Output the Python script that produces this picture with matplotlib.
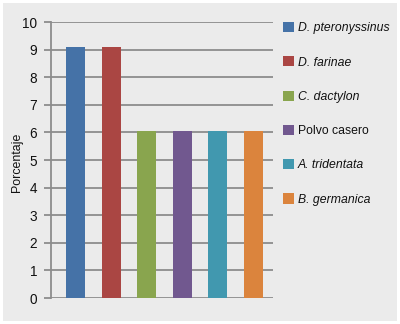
import matplotlib
matplotlib.use("Agg")
import matplotlib.pyplot as plt
from matplotlib.patches import Rectangle, Patch

plt.rcParams['font.family'] = ["Liberation Sans", 'DejaVu Sans']

categories = ["D. pteronyssinus", "D. farinae", "C. dactylon", "Polvo casero",
              "A. tridentata", "B. germanica"]
values = [9.09, 9.09, 6.06, 6.06, 6.06, 6.06]
colors = ["#4572a7", "#aa4643", "#89a54e", "#71588f", "#4198af", "#db843d"]
italic = [True, True, True, False, True, True]
yticks = list(range(0, 11))

W, H = 400, 324
fig = plt.figure(figsize=(W / 100, H / 100), dpi=100, facecolor="white")
bg = "#ebebeb"
fig.patches.append(Rectangle((3 / W, 3 / H), 1 - 6 / W, 1 - 6 / H,
                             transform=fig.transFigure, facecolor=bg,
                             edgecolor="none", zorder=-10))

ax = fig.add_axes([51 / W, 1 - 298 / H, (273 - 51) / W, (298 - 22) / H])
ax.set_facecolor(bg)
ax.patch.set_alpha(0)
x = list(range(len(categories)))
ax.bar(x, values, width=0.53, color=colors, zorder=3)
ax.set_xlim(-0.69, 5.55)
ax.set_ylim(0, 10)
ax.set_yticks(yticks)
ax.set_yticklabels([str(t) for t in yticks], fontsize=9.8)
ax.set_xticks([])
grid_c = "#8c8c8c"
ax.yaxis.grid(True, color=grid_c, linewidth=1.3, zorder=0)
ax.set_axisbelow(True)
for s in ["top", "right", "bottom"]:
    ax.spines[s].set_visible(False)
ax.spines["left"].set_color(grid_c)
ax.spines["left"].set_linewidth(1.3)
ax.tick_params(axis="y", length=5, width=1.3, color=grid_c, pad=5, labelcolor="#111111")
ax.set_ylabel("Porcentaje", fontsize=8.9, color="#111111")
ax.yaxis.set_label_coords((23 - 51) / 222, (298 - 162) / 276)

handles = [Patch(facecolor=c, edgecolor="none") for c in colors]
leg = fig.legend(handles, categories, loc="upper left",
                 bbox_to_anchor=(283 / W, 1 - 22 / H), frameon=False,
                 fontsize=8.8, handlelength=0.9, handleheight=0.9,
                 handletextpad=0.3, labelspacing=1.8, borderpad=0,
                 borderaxespad=0)
for t, it in zip(leg.get_texts(), italic):
    t.set_color("#111111")
    if it:
        t.set_style("italic")

fig.savefig("out.png", dpi=100, facecolor="white")
